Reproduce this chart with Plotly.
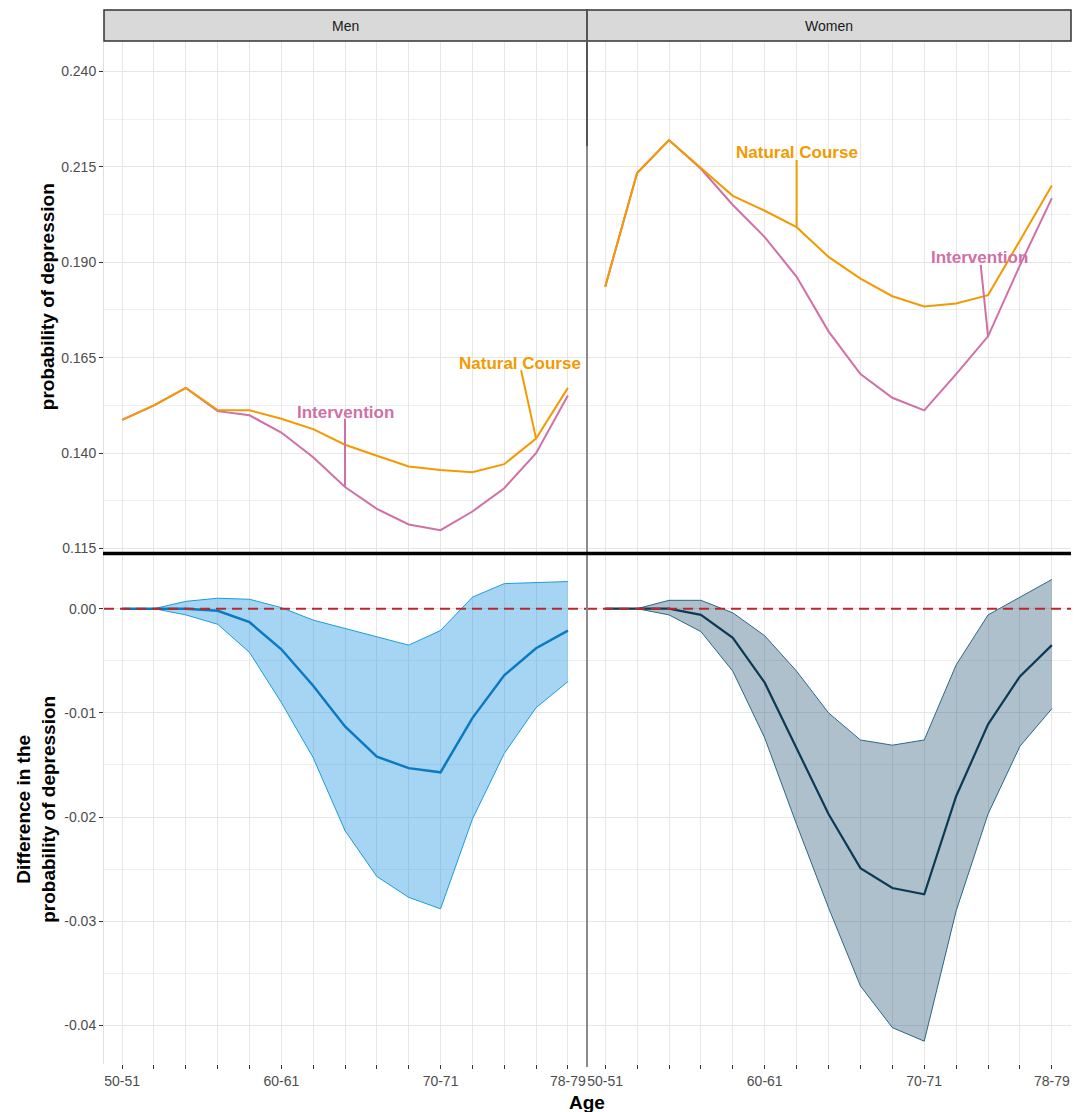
import plotly.graph_objects as go

# ---------------- data ----------------
age_groups = ["50-51", "52-53", "54-55", "56-57", "58-59", "60-61", "62-63", "64-65",
              "66-67", "68-69", "70-71", "72-73", "74-75", "76-77", "78-79"]
shown_age_labels = ["50-51", "60-61", "70-71", "78-79"]

nc_men = [0.1487, 0.1525, 0.1571, 0.1513, 0.1512, 0.1490, 0.1463, 0.1422,
          0.1393, 0.1365, 0.1356, 0.1350, 0.1371, 0.1438, 0.1571]
iv_men = [0.1487, 0.1525, 0.1571, 0.1510, 0.1499, 0.1454, 0.1389, 0.1311,
          0.1254, 0.1213, 0.1198, 0.1247, 0.1308, 0.1400, 0.1551]
nc_women = [0.1836, 0.2134, 0.2220, 0.2148, 0.2074, 0.2035, 0.1992, 0.1914,
            0.1857, 0.1811, 0.1784, 0.1792, 0.1814, 0.1957, 0.2101]
iv_women = [0.1836, 0.2134, 0.2220, 0.2145, 0.2050, 0.1966, 0.1862, 0.1719,
            0.1607, 0.1545, 0.1512, 0.1607, 0.1706, 0.1892, 0.2068]

diff_men = [0, 0, 0, -0.0002, -0.0013, -0.0039, -0.0074, -0.0113,
            -0.0142, -0.0153, -0.0157, -0.0105, -0.0064, -0.0038, -0.0021]
upper_men = [0, 0, 0.0007, 0.0010, 0.0009, 0.0001, -0.0011, -0.0019,
             -0.0027, -0.0035, -0.0021, 0.0011, 0.0024, 0.0025, 0.0026]
lower_men = [0, 0, -0.0006, -0.0015, -0.0042, -0.0090, -0.0143, -0.0213,
             -0.0257, -0.0277, -0.0288, -0.0202, -0.0139, -0.0095, -0.0070]

diff_women = [0, 0, 0, -0.0006, -0.0028, -0.0071, -0.0134, -0.0197,
              -0.0249, -0.0268, -0.0274, -0.0180, -0.0111, -0.0065, -0.0035]
upper_women = [0, 0, 0.0008, 0.0008, -0.0004, -0.0026, -0.0060, -0.0100,
               -0.0126, -0.0131, -0.0126, -0.0054, -0.0006, 0.0011, 0.0028]
lower_women = [0, 0, -0.0006, -0.0022, -0.0060, -0.0124, -0.0207, -0.0287,
               -0.0362, -0.0402, -0.0415, -0.0290, -0.0197, -0.0132, -0.0096]

top_ticks = [0.115, 0.140, 0.165, 0.190, 0.215, 0.240]
top_ticktext = ["0.115", "0.140", "0.165", "0.190", "0.215", "0.240"]
top_minor = [0.1275, 0.1525, 0.1775, 0.2025, 0.2275]
bot_ticks = [0.00, -0.01, -0.02, -0.03, -0.04]
bot_ticktext = ["0.00", "-0.01", "-0.02", "-0.03", "-0.04"]
bot_minor = [-0.005, -0.015, -0.025, -0.035]

facets = ["Men", "Women"]

# ---------------- styling ----------------
W, H = 1075, 1112
FONT = "Liberation Sans, Arial, sans-serif"
ORANGE = "#F39A00"
PINK = "#D070A6"
GRID = "#E6E6E6"
MINOR = "#EFEFEF"
TICKTXT = "#4D4D4D"

def px_x(p):
    return p / W

def px_y(p):
    return 1 - p / H

left_dom = [px_x(104), px_x(587)]
right_dom = [px_x(587), px_x(1071)]
top_dom = [px_y(555), px_y(41)]
bot_dom = [px_y(1067), px_y(557)]
xrange = [-0.57, 14.6]
top_range = [0.1137, 0.2480]
bot_range = [-0.0437, 0.0051]

fig = go.Figure()

# top panels
for xa, ya, nc, iv in [("x", "y", nc_men, iv_men), ("x2", "y2", nc_women, iv_women)]:
    fig.add_trace(go.Scatter(x=age_groups, y=iv, mode="lines", xaxis=xa, yaxis=ya,
                             line=dict(color=PINK, width=2), showlegend=False, hoverinfo="skip"))
    fig.add_trace(go.Scatter(x=age_groups, y=nc, mode="lines", xaxis=xa, yaxis=ya,
                             line=dict(color=ORANGE, width=2), showlegend=False, hoverinfo="skip"))

# bottom panels
bot_styles = [
    ("x3", "y3", diff_men, upper_men, lower_men, "rgba(30,150,225,0.4)", "#1E9BDD", "#0A7AC2", 2.5),
    ("x4", "y4", diff_women, upper_women, lower_women, "rgba(20,75,105,0.35)", "#2C6787", "#0B3A57", 2.2),
]
for xa, ya, d, up, lo, fillc, edge, mean, mw in bot_styles:
    fig.add_trace(go.Scatter(x=age_groups, y=lo, mode="lines", xaxis=xa, yaxis=ya,
                             line=dict(color=edge, width=1), showlegend=False, hoverinfo="skip"))
    fig.add_trace(go.Scatter(x=age_groups, y=up, mode="lines", xaxis=xa, yaxis=ya, fill="tonexty",
                             fillcolor=fillc, line=dict(color=edge, width=1),
                             showlegend=False, hoverinfo="skip"))
    fig.add_trace(go.Scatter(x=age_groups, y=d, mode="lines", xaxis=xa, yaxis=ya,
                             line=dict(color=mean, width=mw), showlegend=False, hoverinfo="skip"))

# axes
tickfont = dict(family=FONT, size=14, color=TICKTXT)
xtext = [a if a in shown_age_labels else "" for a in age_groups]

def xaxis(dom, anchor, bottom):
    d = dict(domain=dom, anchor=anchor, type="category", range=xrange,
             tickmode="array", tickvals=age_groups, showgrid=True, gridcolor=GRID, gridwidth=1.4,
             zeroline=False, showline=False, fixedrange=True)
    if bottom:
        d.update(ticktext=xtext, ticks="outside", ticklen=4, tickwidth=1, tickcolor="#333333",
                 tickfont=tickfont, showticklabels=True, tickangle=0)
    else:
        d.update(showticklabels=False, ticks="")
    return d

def yaxis(dom, anchor, rng, tv, tt, minor, left):
    d = dict(domain=dom, anchor=anchor, range=rng, tickmode="array", tickvals=tv,
             showgrid=True, gridcolor=GRID, gridwidth=1.4, zeroline=False,
             minor=dict(tickmode="array", tickvals=minor, showgrid=True, gridcolor=MINOR,
                        gridwidth=1, ticks=""),
             fixedrange=True)
    if left:
        d.update(ticktext=tt, ticks="outside", ticklen=4, tickwidth=1, tickcolor="#333333",
                 tickfont=tickfont, showline=True, linecolor="#E0E0E0", linewidth=1)
    else:
        d.update(showticklabels=False, ticks="", showline=False)
    return d

fig.update_layout(
    xaxis=xaxis(left_dom, "y", False),
    xaxis2=xaxis(right_dom, "y2", False),
    xaxis3=xaxis(left_dom, "y3", True),
    xaxis4=xaxis(right_dom, "y4", True),
    yaxis=yaxis(top_dom, "x", top_range, top_ticks, top_ticktext, top_minor, True),
    yaxis2=yaxis(top_dom, "x2", top_range, top_ticks, top_ticktext, top_minor, False),
    yaxis3=yaxis(bot_dom, "x3", bot_range, bot_ticks, bot_ticktext, bot_minor, True),
    yaxis4=yaxis(bot_dom, "x4", bot_range, bot_ticks, bot_ticktext, bot_minor, False),
)

shapes = []
# dashed reference line at zero
for xa, ya in [("x3", "y3"), ("x4", "y4")]:
    shapes.append(dict(type="line", xref=f"{xa} domain", yref=ya, x0=0, x1=1, y0=0, y1=0,
                       line=dict(color="#B8282C", width=2, dash="10px,6px"), layer="above"))
# strips
for dom, name in [(left_dom, facets[0]), (right_dom, facets[1])]:
    shapes.append(dict(type="rect", xref="paper", yref="paper", x0=dom[0], x1=dom[1],
                       y0=px_y(41), y1=px_y(10), fillcolor="#D9D9D9",
                       line=dict(color="#333333", width=1.5), layer="above"))
# separator lines
shapes.append(dict(type="line", xref="paper", yref="paper", x0=px_x(587), x1=px_x(587),
                   y0=px_y(1070), y1=px_y(147), line=dict(color="#8A8A8A", width=2)))
shapes.append(dict(type="line", xref="paper", yref="paper", x0=px_x(587), x1=px_x(587),
                   y0=px_y(147), y1=px_y(10), line=dict(color="#555555", width=2)))
shapes.append(dict(type="line", xref="paper", yref="paper", x0=px_x(103), x1=px_x(1071),
                   y0=px_y(555), y1=px_y(555), line=dict(color="#000000", width=3.5)))

# label leader segments (end points taken from the data)
label_specs = [
    # xa, ya, text, color, text_x, text_y, seg_x0, seg_y0, series, idx
    ("x", "y", "Intervention", PINK, 7.0, 0.1506, 7.0, 0.1490, iv_men, 7),
    ("x", "y", "Natural Course", ORANGE, 12.49, 0.1636, 12.53, 0.1617, nc_men, 13),
    ("x2", "y2", "Natural Course", ORANGE, 6.0, 0.2188, 6.0, 0.2168, nc_women, 6),
    ("x2", "y2", "Intervention", PINK, 11.74, 0.1912, 11.77, 0.1893, iv_women, 12),
]
annotations = []
for xa, ya, txt, col, tx, ty, sx, sy, series, idx in label_specs:
    shapes.append(dict(type="line", xref=xa, yref=ya, x0=sx, y0=sy, x1=idx, y1=series[idx],
                       line=dict(color=col, width=2)))
    annotations.append(dict(xref=xa, yref=ya, x=tx, y=ty, text=txt, showarrow=False,
                            xanchor="center", yanchor="middle",
                            font=dict(family=FONT, size=17, color=col, weight="bold")))

for dom, name in [(left_dom, facets[0]), (right_dom, facets[1])]:
    annotations.append(dict(xref="paper", yref="paper", x=(dom[0] + dom[1]) / 2, y=px_y(26),
                            text=name, showarrow=False, xanchor="center", yanchor="middle",
                            font=dict(family=FONT, size=14, color="#1A1A1A")))

annotations.append(dict(xref="paper", yref="paper", x=px_x(47), y=px_y(298),
                        text="probability of depression", textangle=-90, showarrow=False,
                        xanchor="center", yanchor="middle",
                        font=dict(family=FONT, size=19, color="#000000", weight="bold")))
annotations.append(dict(xref="paper", yref="paper", x=px_x(36), y=px_y(812),
                        text="Difference in the<br>probability of depression", textangle=-90,
                        showarrow=False, xanchor="center", yanchor="middle",
                        font=dict(family=FONT, size=19, color="#000000", weight="bold")))
annotations.append(dict(xref="paper", yref="paper", x=px_x(587), y=px_y(1105),
                        text="Age", showarrow=False, xanchor="center", yanchor="middle",
                        font=dict(family=FONT, size=19, color="#000000", weight="bold")))

fig.update_layout(
    width=W, height=H, margin=dict(l=0, r=0, t=0, b=0),
    paper_bgcolor="white", plot_bgcolor="white",
    shapes=shapes, annotations=annotations, showlegend=False,
    font=dict(family=FONT),
)

fig.write_html("out.html", config={"displayModeBar": False},
               post_script="document.body.style.margin='0';document.body.style.padding='0';"
                           "document.body.style.overflow='hidden';")
